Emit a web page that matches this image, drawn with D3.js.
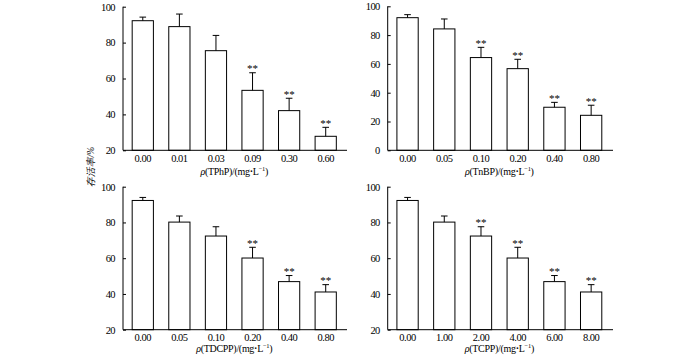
<!DOCTYPE html>
<html>
<head>
<meta charset="utf-8">
<script src="https://cdn.jsdelivr.net/npm/d3@7"></script>
<style>
  html, body { margin: 0; padding: 0; background: #fff; }
  svg { display: block; }
  text { font-family: "Liberation Serif", "Times New Roman", serif; fill: #000; }
</style>
</head>
<body>
<svg id="chart" width="700" height="355"></svg>
<script>
// ---------- data ----------
const catsTPhP  = ["0.00", "0.01", "0.03", "0.09", "0.30", "0.60"];
const valsTPhP  = [92.2, 88.9, 75.5, 53.4, 42.1, 27.8];
const errsTPhP  = [2.0, 7.0, 8.5, 9.8, 6.9, 5.0];
const sigTPhP   = [false, false, false, true, true, true];

const catsTnBP  = ["0.00", "0.05", "0.10", "0.20", "0.40", "0.80"];
const valsTnBP  = [92.1, 84.3, 64.4, 56.7, 29.9, 24.3];
const errsTnBP  = [2.1, 6.9, 7.1, 6.5, 3.4, 7.0];
const sigTnBP   = [false, false, true, true, true, true];

const catsTDCPP = ["0.00", "0.05", "0.10", "0.20", "0.40", "0.80"];
const valsTDCPP = [92.3, 80.2, 72.4, 60.1, 46.9, 41.1];
const errsTDCPP = [1.7, 3.4, 5.2, 6.0, 3.4, 4.1];
const sigTDCPP  = [false, false, false, true, true, true];

const catsTCPP  = ["0.00", "1.00", "2.00", "4.00", "6.00", "8.00"];
const valsTCPP  = [92.3, 80.2, 72.4, 60.1, 46.9, 41.1];
const errsTCPP  = [1.7, 3.4, 5.2, 6.0, 3.4, 4.1];
const sigTCPP   = [false, false, true, true, true, true];

const ticksA = [20, 40, 60, 80, 100];
const ticksB = [0, 20, 40, 60, 80, 100];

const yTitle = "存活率/%";
const xTitles = ["TPhP", "TnBP", "TDCPP", "TCPP"];

// ---------- layout ----------
const panels = [
  { cats: catsTPhP,  vals: valsTPhP,  errs: errsTPhP,  sig: sigTPhP,  ticks: ticksA, domain: [20, 100],
    ax: 123,   axEnd: 347, bandR: [124.5, 344],   yTop: 6.7,   yBot: 150.3, titleDy: 25, name: xTitles[0] },
  { cats: catsTnBP,  vals: valsTnBP,  errs: errsTnBP,  sig: sigTnBP,  ticks: ticksB, domain: [0, 100],
    ax: 387.7, axEnd: 613, bandR: [389.2, 609.5], yTop: 6.3,   yBot: 150.3, titleDy: 25, name: xTitles[1] },
  { cats: catsTDCPP, vals: valsTDCPP, errs: errsTDCPP, sig: sigTDCPP, ticks: ticksA, domain: [20, 100],
    ax: 123,   axEnd: 347, bandR: [124.5, 344],   yTop: 186.7, yBot: 329.7, titleDy: 22.5, name: xTitles[2] },
  { cats: catsTCPP,  vals: valsTCPP,  errs: errsTCPP,  sig: sigTCPP,  ticks: ticksA, domain: [20, 100],
    ax: 387.7, axEnd: 613, bandR: [389.2, 609.5], yTop: 186.7, yBot: 329.7, titleDy: 22.5, name: xTitles[3] }
];

const svg = d3.select("#chart");

panels.forEach(p => {
  const g = svg.append("g");
  const x = d3.scaleBand().domain(p.cats).range(p.bandR).paddingInner(0.42).paddingOuter(0.21);
  const y = d3.scaleLinear().domain(p.domain).range([p.yBot, p.yTop]);

  // bars
  g.selectAll("rect.bar").data(p.vals).enter().append("rect")
    .attr("class", "bar")
    .attr("x", (d, i) => x(p.cats[i]))
    .attr("width", x.bandwidth())
    .attr("y", d => y(d))
    .attr("height", d => y(p.domain[0]) - y(d))
    .attr("fill", "#fff").attr("stroke", "#000").attr("stroke-width", 1);

  // error bars (upper only)
  p.vals.forEach((v, i) => {
    const cx = x(p.cats[i]) + x.bandwidth() / 2;
    const top = y(v + p.errs[i]);
    g.append("line").attr("x1", cx).attr("x2", cx).attr("y1", y(v)).attr("y2", top)
      .attr("stroke", "#000").attr("stroke-width", 1);
    g.append("line").attr("x1", cx - 3.3).attr("x2", cx + 3.3).attr("y1", top).attr("y2", top)
      .attr("stroke", "#000").attr("stroke-width", 1);
    if (p.sig[i]) {
      g.append("text").attr("x", cx).attr("y", top - 0.5)
        .attr("text-anchor", "middle").attr("font-size", 11).text("**");
    }
  });

  // y axis
  const yAxis = d3.axisLeft(y).tickValues(p.ticks).tickSizeInner(-3).tickSizeOuter(0).tickPadding(8);
  const ya = g.append("g").attr("transform", `translate(${p.ax},0)`).call(yAxis);
  ya.select(".domain").remove();
  ya.selectAll("line").attr("stroke", "#000");
  ya.selectAll("text").attr("font-size", 10.5).attr("letter-spacing", -0.6)
    .attr("font-family", "'Liberation Serif', 'Times New Roman', serif");
  g.append("line").attr("x1", p.ax).attr("x2", p.ax).attr("y1", p.yTop).attr("y2", p.yBot)
    .attr("stroke", "#000").attr("stroke-width", 1);

  // x axis
  const xAxis = d3.axisBottom(x).tickSize(0).tickPadding(4);
  const xa = g.append("g").attr("transform", `translate(0,${p.yBot})`).call(xAxis);
  xa.select(".domain").remove();
  xa.selectAll("text").attr("font-size", 10.5).attr("letter-spacing", -0.5)
    .attr("font-family", "'Liberation Serif', 'Times New Roman', serif");
  g.append("line").attr("x1", p.ax).attr("x2", p.axEnd).attr("y1", p.yBot).attr("y2", p.yBot)
    .attr("stroke", "#000").attr("stroke-width", 1);

  // x title
  const cx = (p.bandR[0] + p.bandR[1]) / 2;
  const t = g.append("text").attr("x", cx).attr("y", p.yBot + p.titleDy)
    .attr("text-anchor", "middle").attr("font-size", 10).attr("letter-spacing", -0.3);
  t.append("tspan").attr("font-style", "italic").text("ρ");
  t.append("tspan").text(`(${p.name})/(mg`);
  t.append("tspan").attr("font-weight", "bold").text("·");
  t.append("tspan").text("L");
  t.append("tspan").attr("font-size", 6.5).attr("dy", -4).text("−1");
  t.append("tspan").attr("dy", 4).text(")");
});

// shared y title
svg.append("text")
  .attr("transform", "translate(94,167) rotate(-90)")
  .attr("text-anchor", "middle")
  .attr("font-size", 9.5)
  .attr("font-style", "italic")
  .attr("font-family", "'Noto Sans CJK SC', 'Liberation Serif', serif")
  .text(yTitle);
</script>
</body>
</html>
